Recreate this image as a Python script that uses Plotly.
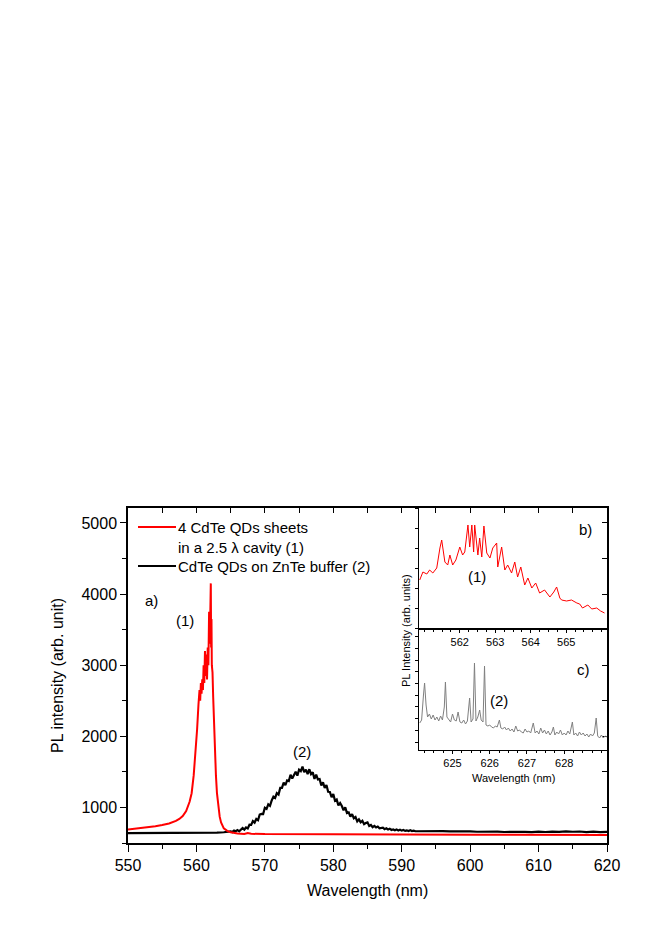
import plotly.graph_objects as go

# ---------------- data ----------------
# Main panel: curve (1) red, 4 CdTe QD sheets in 2.5 lambda cavity
red_wl = [550, 551, 552, 553, 554, 555, 556, 557, 557.5, 558, 558.5, 559, 559.3, 559.6, 559.9,
          560.1, 560.3, 560.45, 560.55, 560.65, 560.75, 560.85, 560.95, 561.05, 561.15, 561.25,
          561.35, 561.45, 561.55, 561.65, 561.75, 561.85, 561.95, 562.0, 562.05, 562.1, 562.15,
          562.2, 562.25, 562.35, 562.45, 562.55, 562.7, 562.85, 563.0, 563.2, 563.4, 563.6, 563.8,
          564.0, 564.5, 565, 566, 567, 567.5, 568, 570, 575, 580, 585, 590, 595, 600, 605, 610,
          615, 620]
red_pl = [690, 700, 712, 722, 735, 752, 775, 810, 838, 880, 950, 1080, 1200, 1450, 1800,
          2100, 2450, 2650, 2500, 2750, 2600, 2800, 2650, 3000, 2750, 3200,
          2850, 3150, 2800, 3250, 3000, 3750, 3300, 3600, 3350, 4150, 3250,
          3650, 3000, 2900, 2550, 2200, 1800, 1450, 1200, 1000, 870, 790, 740,
          705, 670, 650, 635, 628, 640, 630, 625, 622, 620, 620, 618, 617, 616, 615, 614,
          613, 612]

# Main panel: curve (2) black, CdTe QDs on ZnTe buffer
black_wl = [550, 555, 560, 562, 563, 564,
            565.00, 565.25, 565.50, 565.75, 566.00, 566.25, 566.50, 566.75, 567.00, 567.25,
            567.50, 567.75, 568.00, 568.25, 568.50, 568.75, 569.00, 569.25, 569.50, 569.75,
            570.00, 570.25, 570.50, 570.75, 571.00, 571.25, 571.50, 571.75, 572.00, 572.25,
            572.50, 572.75, 573.00, 573.25, 573.50, 573.75, 574.00, 574.25, 574.50, 574.75,
            575.00, 575.25, 575.50, 575.75, 576.00, 576.25, 576.50, 576.75, 577.00, 577.25,
            577.50, 577.75, 578.00, 578.25, 578.50, 578.75, 579.00, 579.25, 579.50, 579.75,
            580.00, 580.25, 580.50, 580.75, 581.00, 581.25, 581.50, 581.75, 582.00, 582.25,
            582.50, 582.75, 583.00, 583.25, 583.50, 583.75, 584.00, 584.25, 584.50, 584.75,
            585.00, 585.25, 585.50, 585.75, 586.00, 586.25, 586.50, 586.75, 587.00, 587.25,
            587.50, 587.75, 588.00, 588.25, 588.50, 588.75, 589.00, 589.25, 589.50, 589.75,
            590.00, 590.25, 590.50, 590.75, 591.00, 591.25, 591.50, 591.75, 592.00,
            593, 594, 595, 596, 597, 598, 599, 600, 601, 602, 603, 604, 605, 606, 607, 608,
            609, 610, 611, 612, 613, 614, 615, 616, 617, 618, 619, 620]
black_pl = [640, 640, 641, 643, 646, 651,
            663, 653, 676, 665, 681, 664, 689, 710, 689, 718,
            705, 757, 754, 808, 787, 838, 820, 899, 910, 907,
            995, 980, 1043, 1023, 1098, 1152, 1133, 1200, 1180, 1275,
            1275, 1348, 1312, 1380, 1372, 1460, 1408, 1468, 1503, 1448,
            1530, 1510, 1573, 1495, 1532, 1470, 1537, 1467, 1493, 1402,
            1460, 1394, 1400, 1310, 1355, 1273, 1315, 1220, 1218, 1145,
            1188, 1094, 1110, 1028, 1062, 1020, 960, 1000, 922, 930,
            872, 905, 848, 865, 805, 833, 792, 812, 765, 780,
            790, 740, 753, 723, 740, 719, 732, 706, 714, 716,
            695, 706, 690, 701, 683, 691, 679, 691, 676, 686,
            674, 682, 670, 678, 669, 679, 668, 674, 665,
            667, 671, 665, 668, 663, 666, 660, 664, 658, 662, 656, 660, 655, 659, 653, 657,
            654, 660, 655, 661, 656, 664, 658, 662, 654, 659, 652, 656]

# Inset b): curve (1), arbitrary units
b_wl = [560.87, 560.96, 561.07, 561.15, 561.24, 561.35, 561.44, 561.49, 561.58, 561.66,
        561.72, 561.80, 561.89, 562.00, 562.08, 562.14, 562.23, 562.28, 562.34, 562.39,
        562.42, 562.51, 562.56, 562.62, 562.68, 562.76, 562.85, 562.93, 563.04, 563.07,
        563.18, 563.27, 563.35, 563.46, 563.55, 563.63, 563.72, 563.83, 563.92, 564.03,
        564.14, 564.25, 564.39, 564.54, 564.65, 564.73, 564.82, 564.87, 565.01, 565.15,
        565.30, 565.38, 565.46, 565.61, 565.72, 565.86, 565.97, 566.08]
b_pl = [49, 57, 55, 59, 56, 61, 81, 89, 67, 64,
        74, 64, 69, 82, 74, 77, 104, 82, 104, 77,
        104, 74, 91, 72, 103, 76, 71, 81, 86, 62,
        82, 59, 64, 56, 67, 52, 62, 44, 51, 41,
        46, 36, 39, 32, 37, 42, 31, 29, 28, 29,
        26, 25, 21, 24, 20, 21, 18, 16]

# Inset c): curve (2), arbitrary units
c_wl = [624.12, 624.17, 624.22, 624.25, 624.29, 624.33, 624.38, 624.43, 624.48, 624.53,
        624.58, 624.63, 624.68, 624.73, 624.78, 624.81, 624.85, 624.90, 624.95, 625.00,
        625.05, 625.10, 625.15, 625.20, 625.25, 625.30, 625.35, 625.40, 625.46, 625.50,
        625.55, 625.59, 625.63, 625.68, 625.73, 625.77, 625.82, 625.86, 625.90, 625.95,
        626.00, 626.05, 626.10, 626.15, 626.20, 626.26, 626.30, 626.35, 626.40, 626.45,
        626.50, 626.55, 626.60, 626.65, 626.70, 626.75, 626.80, 626.85, 626.90, 626.95,
        627.00, 627.05, 627.10, 627.17, 627.22, 627.27, 627.32, 627.37, 627.42, 627.47,
        627.52, 627.57, 627.62, 627.67, 627.71, 627.75, 627.80, 627.85, 627.90, 627.95,
        628.00, 628.05, 628.10, 628.15, 628.22, 628.26, 628.31, 628.36, 628.41, 628.46,
        628.51, 628.56, 628.61, 628.66, 628.71, 628.76, 628.81, 628.86, 628.90, 628.95,
        629.00, 629.05, 629.10, 629.15]
c_pl = [27, 30, 55, 67, 45, 33, 36, 31, 35, 30,
        33, 29, 34, 30, 43, 68, 33, 31, 28, 36,
        30, 29, 38, 28, 27, 30, 26, 29, 52, 28,
        31, 87, 29, 33, 40, 30, 28, 84, 25, 24,
        25, 23, 22, 24, 23, 30, 22, 21, 23, 20,
        22, 19, 21, 18, 24, 19, 20, 18, 17, 21,
        18, 19, 17, 27, 17, 19, 16, 22, 17, 20,
        16, 19, 15, 18, 23, 15, 18, 16, 20, 15,
        17, 15, 19, 16, 28, 15, 17, 14, 18, 15,
        17, 14, 16, 13, 16, 14, 17, 32, 14, 12,
        15, 12, 14, 13]

main_xticks = [550, 560, 570, 580, 590, 600, 610, 620]
main_yticks = [1000, 2000, 3000, 4000, 5000]
b_xticks = [562, 563, 564, 565]
c_xticks = [625, 626, 627, 628]

legend_texts = ["4 CdTe QDs sheets", "in a 2.5 λ cavity (1)", "CdTe QDs on ZnTe buffer (2)"]

# ---------------- layout helpers ----------------
OFF = 8  # page body margin
W, H = 664 - 2 * OFF, 940 - 2 * OFF
FONT = "Liberation Sans, Arial, sans-serif"


def px(x):
    return (x - OFF) / W


def py(y):
    return 1 - (y - OFF) / H


main_x = [px(128), px(607)]
main_y = [py(843), py(508)]
ins_x = [px(419), px(607)]
b_y = [py(629), py(508)]
c_y = [py(750), py(629)]

fig = go.Figure()

fig.add_trace(go.Scatter(x=black_wl, y=black_pl, mode="lines",
                         line=dict(color="black", width=2.2), showlegend=False,
                         xaxis="x", yaxis="y"))
fig.add_trace(go.Scatter(x=red_wl, y=red_pl, mode="lines",
                         line=dict(color="#ff0000", width=2), showlegend=False,
                         xaxis="x", yaxis="y"))
# helper (empty) trace so the mirrored frame axes render
fig.add_trace(go.Scatter(x=[None], y=[None], mode="lines", showlegend=False,
                         hoverinfo="skip", xaxis="x2", yaxis="y2"))
fig.add_trace(go.Scatter(x=b_wl, y=b_pl, mode="lines",
                         line=dict(color="#ff0000", width=1), showlegend=False,
                         xaxis="x3", yaxis="y3"))
fig.add_trace(go.Scatter(x=c_wl, y=c_pl, mode="lines",
                         line=dict(color="#808080", width=1), showlegend=False,
                         xaxis="x4", yaxis="y4"))

tick_font = dict(family=FONT, size=16, color="black")
small_font = dict(family=FONT, size=11, color="black")

common = dict(automargin=False, showgrid=False, zeroline=False)

fig.update_layout(
    width=W, height=H,
    margin=dict(l=0, r=0, t=0, b=0, autoexpand=False),
    paper_bgcolor="white",
    plot_bgcolor="rgba(0,0,0,0)",
    font=dict(family=FONT, color="black"),
    showlegend=False,
    xaxis=dict(domain=main_x, anchor="y", range=[550, 620], tickmode="array",
               tickvals=main_xticks, ticks="outside", ticklen=7, tickwidth=1.2,
               tickcolor="black", showline=True, linecolor="black", linewidth=1.5,
               tickfont=tick_font,
               minor=dict(tickmode="linear", tick0=550, dtick=5, ticks="outside",
                          ticklen=4, tickcolor="black", tickwidth=1.2), **common),
    xaxis2=dict(domain=main_x, anchor="y", overlaying="x", side="top", range=[550, 620],
                tickmode="linear", tick0=550, dtick=5, ticks="inside", ticklen=5,
                tickcolor="black", tickwidth=1.2, showticklabels=False, showline=True,
                linecolor="black", linewidth=1.5, **common),
    yaxis=dict(domain=main_y, anchor="x", range=[500, 5210], tickmode="array",
               tickvals=main_yticks, ticks="outside", ticklen=6, tickwidth=1.2,
               tickcolor="black", showline=True, linecolor="black", linewidth=1.5,
               tickfont=tick_font,
               minor=dict(tickmode="linear", tick0=500, dtick=500, ticks="outside",
                          ticklen=4, tickcolor="black", tickwidth=1.2), **common),
    yaxis2=dict(domain=main_y, anchor="x", overlaying="y", side="right", range=[500, 5210],
                tickmode="linear", tick0=500, dtick=500, ticks="inside", ticklen=5,
                tickcolor="black", tickwidth=1.2, showticklabels=False, showline=True,
                linecolor="black", linewidth=1.5, **common),
    xaxis3=dict(domain=ins_x, anchor="y3", range=[560.85, 566.15], tickmode="array",
                tickvals=b_xticks, ticks="outside", ticklen=3, tickwidth=1,
                tickcolor="black", showline=True, mirror=True, linecolor="black",
                linewidth=1, tickfont=small_font,
                minor=dict(tickmode="linear", tick0=560, dtick=0.25, ticks="outside",
                           ticklen=2, tickcolor="black", tickwidth=1), **common),
    yaxis3=dict(domain=b_y, anchor="x3", range=[0, 121], tickmode="linear", tick0=1,
                dtick=20, ticks="outside", ticklen=3, tickwidth=1, tickcolor="black",
                showticklabels=False, showline=True, mirror=True, linecolor="black",
                linewidth=1, **common),
    xaxis4=dict(domain=ins_x, anchor="y4", range=[624.1, 629.15], tickmode="array",
                tickvals=c_xticks, ticks="outside", ticklen=3, tickwidth=1,
                tickcolor="black", showline=True, mirror=True, linecolor="black",
                linewidth=1, tickfont=small_font,
                minor=dict(tickmode="linear", tick0=624, dtick=0.25, ticks="outside",
                           ticklen=2, tickcolor="black", tickwidth=1), **common),
    yaxis4=dict(domain=c_y, anchor="x4", range=[0, 121], tickmode="linear", tick0=8,
                dtick=11.7, ticks="outside", ticklen=3, tickwidth=1, tickcolor="black",
                showticklabels=False, showline=True, mirror=True, linecolor="black",
                linewidth=1, **common),
)

ann = []


def add_text(text, x, y, size=15, xanchor="center", angle=0):
    ann.append(dict(text=text, x=px(x), y=py(y), xref="paper", yref="paper",
                    xanchor=xanchor, yanchor="middle", showarrow=False,
                    textangle=angle, font=dict(family=FONT, size=size, color="black")))


# legend (drawn manually)
add_text(legend_texts[0], 176, 527, 15, "left")
add_text(legend_texts[1], 176, 547, 15, "left")
add_text(legend_texts[2], 176, 566, 15, "left")
# labels on main panel
add_text("a)", 151, 600, 15)
add_text("(1)", 185, 620, 15)
add_text("(2)", 302, 751, 15)
add_text("Wavelength (nm)", 367, 890, 16)
add_text("PL intensity (arb. unit)", 57, 676, 16, angle=-90)
# inset labels
add_text("b)", 585, 529, 15)
add_text("(1)", 477, 576, 15)
add_text("c)", 583, 669, 15)
add_text("(2)", 499, 700, 15)
add_text("Wavelength (nm)", 513, 778, 11)
add_text("PL Intensity (arb. units)", 406, 630, 11, angle=-90)

fig.update_layout(annotations=ann)

shapes = [
    dict(type="line", xref="paper", yref="paper", x0=px(138), x1=px(176), y0=py(527), y1=py(527),
         line=dict(color="#ff0000", width=2)),
    dict(type="line", xref="paper", yref="paper", x0=px(138), x1=px(176), y0=py(566), y1=py(566),
         line=dict(color="black", width=2)),
]
fig.update_layout(shapes=shapes)

fig.write_html("out.html")
